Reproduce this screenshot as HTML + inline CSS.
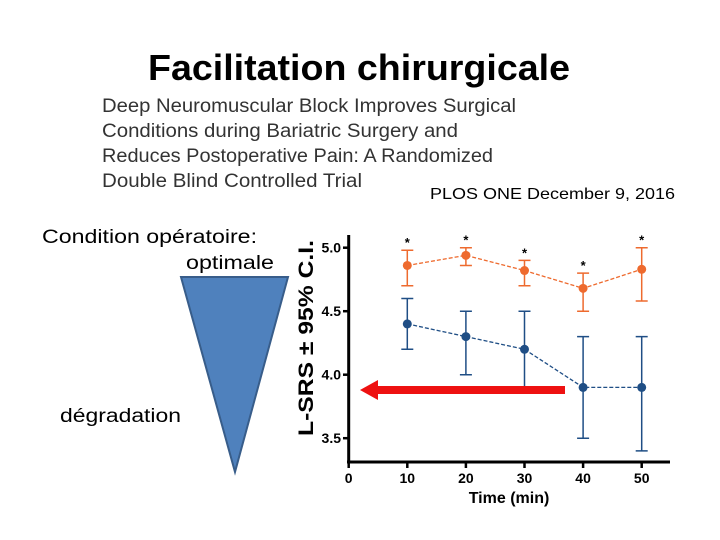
<!DOCTYPE html>
<html><head><meta charset="utf-8"><style>
html,body{margin:0;padding:0;background:#fff;}
svg{display:block;font-family:"Liberation Sans",sans-serif;}
</style></head><body>
<svg id="s" width="720" height="540" viewBox="0 0 720 540">
<text x="148" y="80" font-size="36" font-weight="bold" textLength="422" lengthAdjust="spacingAndGlyphs">Facilitation chirurgicale</text>
<g fill="#333" font-size="19">
<text x="102" y="112" textLength="414" lengthAdjust="spacingAndGlyphs">Deep Neuromuscular Block Improves Surgical</text>
<text x="102" y="137" textLength="356" lengthAdjust="spacingAndGlyphs">Conditions during Bariatric Surgery and</text>
<text x="102" y="162" textLength="391" lengthAdjust="spacingAndGlyphs">Reduces Postoperative Pain: A Randomized</text>
<text x="102" y="187" textLength="260" lengthAdjust="spacingAndGlyphs">Double Blind Controlled Trial</text>
</g>
<text x="430" y="199" font-size="16" textLength="245" lengthAdjust="spacingAndGlyphs">PLOS ONE December 9, 2016</text>
<text x="42" y="243" font-size="19" textLength="215" lengthAdjust="spacingAndGlyphs">Condition opératoire:</text>
<text x="186" y="269" font-size="19" textLength="88" lengthAdjust="spacingAndGlyphs">optimale</text>
<text x="60" y="422" font-size="19" textLength="121" lengthAdjust="spacingAndGlyphs">dégradation</text>
<polygon points="181,277 288,277 235,472" fill="#4f81bd" stroke="#385d8a" stroke-width="2"/>
<g id="chart"></g>
</svg>
<script>
const times=[10,20,30,40,50];
const deepMean=[4.86,4.94,4.82,4.68,4.83];
const deepLow=[4.70,4.86,4.70,4.50,4.58];
const deepHigh=[4.98,5.00,4.90,4.80,5.00];
const modMean=[4.40,4.30,4.20,3.90,3.90];
const modLow=[4.20,4.00,3.90,3.50,3.40];
const modHigh=[4.60,4.50,4.50,4.30,4.30];
const yTicks=[3.5,4.0,4.5,5.0];
const xTicks=[0,10,20,30,40,50];
const NS='http://www.w3.org/2000/svg';
const g=document.getElementById('chart');
const X=v=>348.7+v*5.86;
const Y=v=>247.7-(v-5)*127;
function el(t,a,p){const e=document.createElementNS(NS,t);for(const k in a)e.setAttribute(k,a[k]);(p||g).appendChild(e);return e;}
let e;
e=el('line',{x1:348.7,y1:235,x2:348.7,y2:463,stroke:'#000','stroke-width':3});


e=el('line',{x1:347,y1:462,x2:670,y2:462,stroke:'#000','stroke-width':3});


yTicks.forEach(v=>{
 el('line',{x1:343,x2:349,y1:Y(v),y2:Y(v),stroke:'#000','stroke-width':2.5});
 e=el('text',{x:341,y:Y(v)+5,'font-size':14,'font-weight':'bold','text-anchor':'end'});
 e.textContent=v.toFixed(1);
 
 
});
xTicks.forEach(v=>{
 el('line',{x1:X(v),x2:X(v),y1:462,y2:468,stroke:'#000','stroke-width':2.5});
 e=el('text',{x:X(v),y:483,'font-size':14,'font-weight':'bold','text-anchor':'middle'});
 e.textContent=v;
 
 
});
e=el('text',{x:509,y:503,'font-size':16,'font-weight':'bold','text-anchor':'middle'});
e.textContent='Time (min)';


e=el('text',{x:0,y:0,'font-size':21,'font-weight':'bold','text-anchor':'middle',transform:'translate(313,338) rotate(-90)',textLength:196,lengthAdjust:'spacingAndGlyphs'});
e.textContent='L-SRS ± 95% C.I.';


function series(mean,lo,hi,col,name,star){
 const sg=el('g',{});
 
 
 el('polyline',{points:times.map((t,i)=>X(t)+','+Y(mean[i])).join(' '),fill:'none',stroke:col,'stroke-width':1.3,'stroke-dasharray':'4,2'},sg);
 times.forEach((t,i)=>{
  const x=X(t);
  const b=el('path',{d:`M${x},${Y(lo[i])}V${Y(hi[i])}M${x-6},${Y(lo[i])}H${x+6}M${x-6},${Y(hi[i])}H${x+6}`,stroke:col,'stroke-width':1.5,fill:'none'},sg);
  
  
  const c=el('circle',{cx:x,cy:Y(mean[i]),r:4.5,fill:col},sg);
  
  
  if(star){const s=el('text',{x:x,y:Y(hi[i])-3,'font-size':13,'font-weight':'bold','text-anchor':'middle'},sg);s.textContent='*';
  
  }
 });
}
series(modMean,modLow,modHigh,'#1f4e85','moderate-block',false);
series(deepMean,deepLow,deepHigh,'#ee6a2e','deep-block',true);
e=el('polygon',{points:'565,386 378,386 378,380 360,390 378,400 378,394 565,394',fill:'#ee1111'});


</script>
</body></html>
